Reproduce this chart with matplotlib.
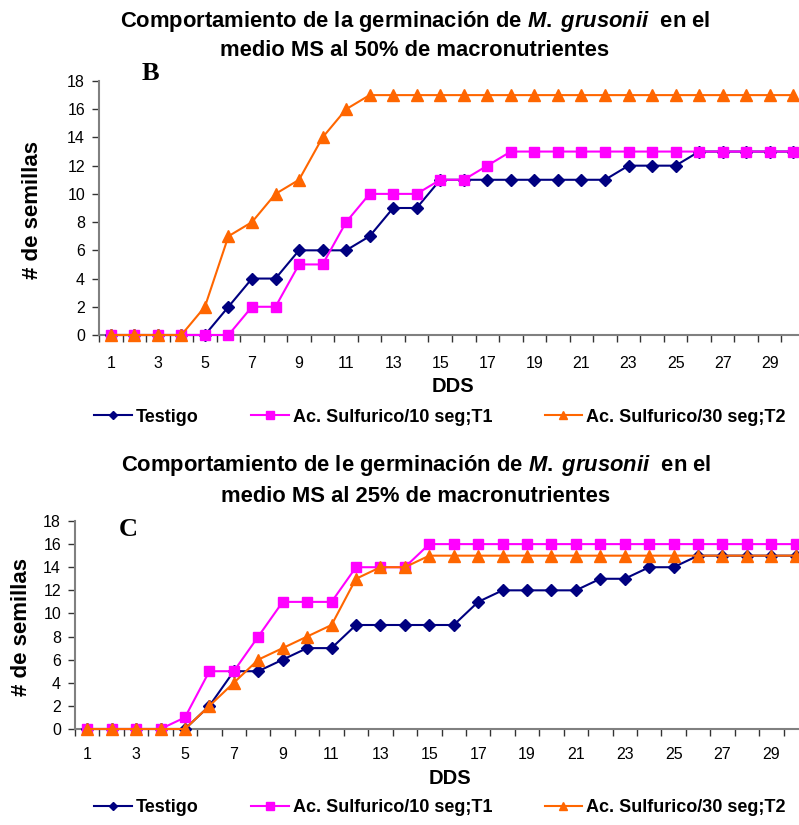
import matplotlib
matplotlib.use("Agg")
import matplotlib.pyplot as plt
from matplotlib.lines import Line2D

plt.rcParams['font.family'] = ['Liberation Sans', 'DejaVu Sans']
plt.rcParams['mathtext.fontset'] = 'custom'
plt.rcParams['mathtext.it'] = 'Liberation Sans:bold:italic'
plt.rcParams['mathtext.rm'] = 'Liberation Sans:bold'
plt.rcParams['mathtext.bf'] = 'Liberation Sans:bold'

days = list(range(1, 31))
series_names = ["Testigo", "Ac. Sulfurico/10 seg;T1", "Ac. Sulfurico/30 seg;T2"]

# Chart B: MS 50% macronutrients
b_testigo = [0, 0, 0, 0, 0, 2, 4, 4, 6, 6, 6, 7, 9, 9, 11, 11, 11, 11, 11, 11, 11, 11, 12, 12, 12, 13, 13, 13, 13, 13]
b_t1 = [0, 0, 0, 0, 0, 0, 2, 2, 5, 5, 8, 10, 10, 10, 11, 11, 12, 13, 13, 13, 13, 13, 13, 13, 13, 13, 13, 13, 13, 13]
b_t2 = [0, 0, 0, 0, 2, 7, 8, 10, 11, 14, 16, 17, 17, 17, 17, 17, 17, 17, 17, 17, 17, 17, 17, 17, 17, 17, 17, 17, 17, 17]

# Chart C: MS 25% macronutrients
c_testigo = [0, 0, 0, 0, 0, 2, 5, 5, 6, 7, 7, 9, 9, 9, 9, 9, 11, 12, 12, 12, 12, 13, 13, 14, 14, 15, 15, 15, 15, 15]
c_t1 = [0, 0, 0, 0, 1, 5, 5, 8, 11, 11, 11, 14, 14, 14, 16, 16, 16, 16, 16, 16, 16, 16, 16, 16, 16, 16, 16, 16, 16, 16]
c_t2 = [0, 0, 0, 0, 0, 2, 4, 6, 7, 8, 9, 13, 14, 14, 15, 15, 15, 15, 15, 15, 15, 15, 15, 15, 15, 15, 15, 15, 15, 15]

y_ticks = [0, 2, 4, 6, 8, 10, 12, 14, 16, 18]
x_labels = [1, 3, 5, 7, 9, 11, 13, 15, 17, 19, 21, 23, 25, 27, 29]

colors = ["#000080", "#FF00FF", "#FF6600"]
markers = ["D", "s", "^"]
msizes = [6, 7, 8]

W, H = 799, 825
fig = plt.figure(figsize=(W / 100, H / 100), dpi=100)


def fx(x):
    return x / W


def fy(y):
    return 1 - y / H


def make_axes(left, top, right, bottom):
    return fig.add_axes([fx(left), fy(bottom), fx(right) - fx(left), (bottom - top) / H])


def draw_chart(ax, data, xpad):
    for vals, c, m, ms in zip(data, colors, markers, msizes):
        ax.plot(days, vals, color=c, marker=m, markersize=ms, linewidth=1.5,
                markeredgecolor=c, clip_on=False, zorder=3)
    ax.set_xlim(0.5, 30.5)
    ax.set_ylim(0, 18)
    ax.set_yticks(y_ticks)
    ax.set_yticklabels([str(v) for v in y_ticks], fontsize=11.5)
    ax.set_xticks([d - 0.5 for d in days] + [30.5])
    ax.set_xticklabels([])
    ax.set_xticks(x_labels, minor=True)
    ax.set_xticklabels([str(v) for v in x_labels], minor=True, fontsize=11.5)
    ax.tick_params(axis='x', which='major', direction='out', length=5, color='#333333', width=1)
    ax.tick_params(axis='x', which='minor', length=0, pad=xpad)
    ax.tick_params(axis='y', direction='out', length=5, color='#333333', width=1, pad=5)
    for s in ['top', 'right']:
        ax.spines[s].set_visible(False)
    for s in ['left', 'bottom']:
        ax.spines[s].set_color('#808080')
        ax.spines[s].set_linewidth(1.5)


def legend_at(y):
    handles = [Line2D([], [], color=c, marker=m, markersize=ms * 0.75, linewidth=1.5)
               for c, m, ms in zip(colors, markers, msizes)]
    fig.legend(handles, series_names, loc='center', bbox_to_anchor=(fx(440), fy(y)),
               ncol=3, frameon=False, handlelength=2.1, handletextpad=0.2,
               columnspacing=2.9, prop={'weight': 'bold', 'size': 13})


title_size = 15.8

# Chart B
axB = make_axes(99, 81, 805, 335)
draw_chart(axB, [b_testigo, b_t1, b_t2], 15)
fig.text(fx(415), fy(22), r"Comportamiento de la germinación de $\mathit{M.\;grusonii}$  en el",
         ha='center', va='center', fontsize=title_size, fontweight='bold')
fig.text(fx(415), fy(50), "medio MS al 50% de macronutrientes",
         ha='center', va='center', fontsize=title_size, fontweight='bold')
fig.text(fx(150), fy(73), "B", ha='center', va='center', fontsize=19, fontweight='bold',
         family='Liberation Serif')
fig.text(fx(32), fy(210), "# de semillas", ha='center', va='center', rotation=90,
         fontsize=16, fontweight='bold')
fig.text(fx(453), fy(386), "DDS", ha='center', va='center', fontsize=14.5, fontweight='bold')
legend_at(417)

# Chart C
axC = make_axes(75, 521, 808, 729)
draw_chart(axC, [c_testigo, c_t1, c_t2], 13)
fig.text(fx(416), fy(466), r"Comportamiento de le germinación de $\mathit{M.\;grusonii}$  en el",
         ha='center', va='center', fontsize=title_size, fontweight='bold')
fig.text(fx(416), fy(496), "medio MS al 25% de macronutrientes",
         ha='center', va='center', fontsize=title_size, fontweight='bold')
fig.text(fx(128), fy(530), "C", ha='center', va='center', fontsize=19, fontweight='bold',
         family='Liberation Serif')
fig.text(fx(22), fy(627), "# de semillas", ha='center', va='center', rotation=90,
         fontsize=16, fontweight='bold')
fig.text(fx(450), fy(778), "DDS", ha='center', va='center', fontsize=14.5, fontweight='bold')
legend_at(808)

fig.savefig("out.png", dpi=100)
